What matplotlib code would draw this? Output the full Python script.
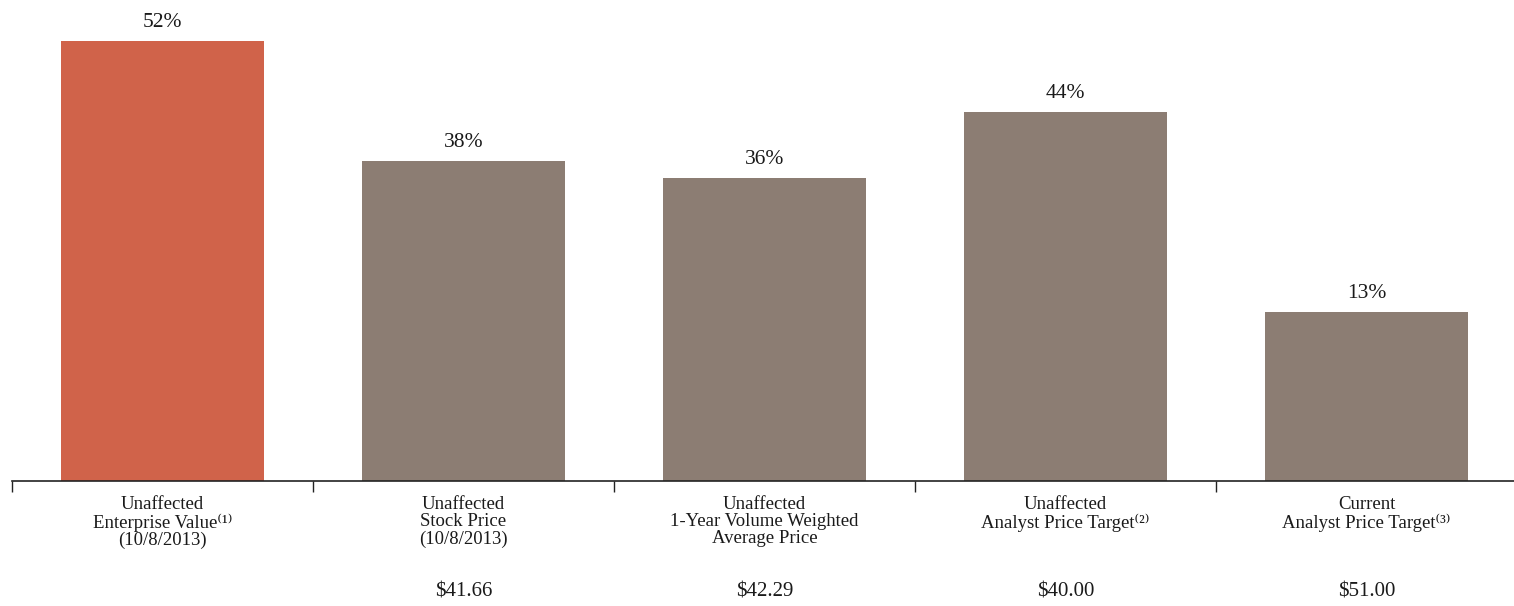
import matplotlib
matplotlib.use("Agg")
import matplotlib.pyplot as plt
import matplotlib.transforms as mtransforms

plt.rcParams['font.family'] = ['Liberation Serif', 'DejaVu Serif']

categories = [
    "Unaffected\nEnterprise Value\u207d\u00b9\u207e\n(10/8/2013)",
    "Unaffected\nStock Price\n(10/8/2013)",
    "Unaffected\n1-Year Volume Weighted\nAverage Price",
    "Unaffected\nAnalyst Price Target\u207d\u00b2\u207e",
    "Current\nAnalyst Price Target\u207d\u00b3\u207e",
]
# bar heights as drawn (last bar is not to scale in the original)
heights = [52, 37.8, 35.8, 43.6, 20.0]
pct_labels = ["52%", "38%", "36%", "44%", "13%"]
prices = ["", "$41.66", "$42.29", "$40.00", "$51.00"]
colors = ["#D0634A", "#8C7D73", "#8C7D73", "#8C7D73", "#8C7D73"]

fig = plt.figure(figsize=(15.14, 6.06), dpi=100)
ax = fig.add_axes([12 / 1514, 125 / 606, 1505 / 1514, 481 / 606])

x = list(range(len(categories)))
bars = ax.bar(x, heights, width=0.675, color=colors, zorder=2)

for b, lab in zip(bars, pct_labels):
    ax.annotate(lab, (b.get_x() + b.get_width() / 2, b.get_height()),
                xytext=(0, 6.5), textcoords="offset points",
                ha="center", va="bottom", fontsize=15.5, color="#1a1a1a")

ax.set_xlim(-0.5, len(categories) - 0.5)
ax.set_ylim(0, 481 / 8.46)

for s in ["top", "right", "left"]:
    ax.spines[s].set_visible(False)
ax.spines["bottom"].set_color("#222222")
ax.spines["bottom"].set_linewidth(1.2)
ax.set_yticks([])

ax.set_xticks(x)
ax.set_xticklabels(categories, fontsize=13.5, color="#1a1a1a", linespacing=1.0)
ax.tick_params(axis="x", which="major", length=0, pad=11)
ax.set_xticks([i - 0.5 for i in range(len(categories) + 1)], minor=True)
ax.tick_params(axis="x", which="minor", length=8, width=1, color="#222222",
               direction="out")

trans = mtransforms.blended_transform_factory(ax.transData, ax.transAxes)
for i, p in enumerate(prices):
    if p:
        ax.text(i, -0.231, p, transform=trans, ha="center", va="center",
                fontsize=15, color="#1a1a1a")

fig.savefig("out.png", dpi=100)
